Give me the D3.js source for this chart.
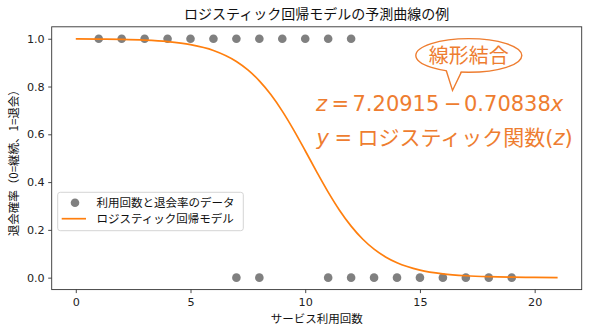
<!DOCTYPE html>
<html>
<head>
<meta charset="utf-8">
<script src="https://cdn.jsdelivr.net/npm/d3@7"></script>
<style>
  body { margin: 0; background: #fff; }
  svg { display: block; }
</style>
</head>
<body>
<svg id="chart" width="590" height="334"></svg>
<script>
// ---- data ----
const dataX = [1,2,3,4,5,6,7,8,9,10,11,12, 7,8,11,12,13,14,15,16,17,18,19];
const dataY = [1,1,1,1,1,1,1,1,1,1,1,1, 0,0,0,0,0,0,0,0,0,0,0];
const curveX = [0,1,2,3,4,5,6,7,7.5,8,8.5,9,9.5,10,10.5,11,11.5,12,12.5,13,13.5,14,15,16,17,18,19,20,21];
const curveY = [0.99926,0.9985,0.99696,0.99384,0.98757,0.97509,0.95068,0.9047,0.86947,0.82376,0.76636,0.69713,0.61763,0.53128,0.44304,0.35822,0.28145,0.21562,0.1617,0.11922,0.08674,0.06249,0.03178,0.01591,0.0079,0.00391,0.00193,0.00095,0.00047];
const xTicks = [0,5,10,15,20];
const yTicks = [0,0.2,0.4,0.6,0.8,1.0];
const titleText = "ロジスティック回帰モデルの予測曲線の例";
const xLabel = "サービス利用回数";
const yLabel = "退会確率（0=継続、1=退会）";
const legendLabels = ["利用回数と退会率のデータ", "ロジスティック回帰モデル"];
const bubbleText = "線形結合";
const eqIntercept = "7.20915";
const eqSlope = "0.70838";
const eqFuncName = "ロジスティック関数";

// ---- layout ----
const svg = d3.select("#chart");
const L = 51.7, R = 581.7, T = 26.8, B = 289.6;
const x = d3.scaleLinear().domain([-1.05, 22.05]).range([L, R]);
const y = d3.scaleLinear().domain([-0.05, 1.05]).range([B, T]);
const orange = "#ff7f0e";
const annot = "#ee7d30";
const tickFont = "'DejaVu Sans', sans-serif";
const jpFont = "'Noto Sans CJK JP', 'Noto Sans', sans-serif";

// points
svg.append("g").selectAll("circle")
  .data(dataX.map((d, i) => [d, dataY[i]]))
  .join("circle")
  .attr("cx", d => x(d[0]))
  .attr("cy", d => y(d[1]))
  .attr("r", 4.3)
  .attr("fill", "#808080");

// curve
const line = d3.line().x(d => x(d[0])).y(d => y(d[1])).curve(d3.curveMonotoneX);
svg.append("path")
  .datum(curveX.map((d, i) => [d, curveY[i]]))
  .attr("d", line)
  .attr("fill", "none")
  .attr("stroke", orange)
  .attr("stroke-width", 1.7);

// axes
const xAxis = svg.append("g").attr("transform", `translate(0,${B})`)
  .call(d3.axisBottom(x).tickValues(xTicks).tickFormat(d3.format("d")).tickSize(3.5).tickSizeOuter(0));
const yAxis = svg.append("g").attr("transform", `translate(${L},0)`)
  .call(d3.axisLeft(y).tickValues(yTicks).tickFormat(d3.format(".1f")).tickSize(3.5).tickSizeOuter(0));
[xAxis, yAxis].forEach(g => {
  g.select(".domain").remove();
  g.selectAll("line").attr("stroke", "#333").attr("stroke-width", 0.9);
  g.selectAll("text").attr("font-family", tickFont).attr("font-size", 11.2).attr("fill", "#222");
});
xAxis.selectAll("text").attr("dy", "0.95em").attr("y", 5.5);
yAxis.selectAll("text").attr("x", -7);

// frame
svg.append("rect")
  .attr("x", L).attr("y", T).attr("width", R - L).attr("height", B - T)
  .attr("fill", "none").attr("stroke", "#333").attr("stroke-width", 0.9);

// title and labels
svg.append("text").attr("x", (L + R) / 2).attr("y", 18.5)
  .attr("text-anchor", "middle").attr("font-family", jpFont).attr("font-size", 14).attr("fill", "#111")
  .text(titleText);
svg.append("text").attr("x", (L + R) / 2).attr("y", 322.5)
  .attr("text-anchor", "middle").attr("font-family", jpFont).attr("font-size", 11.5).attr("fill", "#111")
  .text(xLabel);
svg.append("text").attr("transform", `translate(17.5,${(T + B) / 2 + 2}) rotate(-90)`)
  .attr("text-anchor", "middle").attr("font-family", jpFont).attr("font-size", 11.5).attr("fill", "#111")
  .text(yLabel);

// legend
const lg = svg.append("g");
lg.append("rect").attr("x", 57.7).attr("y", 192.3).attr("width", 185.6).attr("height", 38.4)
  .attr("rx", 2.5).attr("fill", "#fff").attr("fill-opacity", 0.85)
  .attr("stroke", "#d0d0d0").attr("stroke-width", 0.9);
lg.append("circle").attr("cx", 75).attr("cy", 202.8).attr("r", 4.3).attr("fill", "#808080");
lg.append("line").attr("x1", 61.7).attr("x2", 86).attr("y1", 218.7).attr("y2", 218.7)
  .attr("stroke", orange).attr("stroke-width", 1.7);
lg.selectAll("text.lab").data(legendLabels).join("text")
  .attr("x", 96.5).attr("y", (d, i) => 202.8 + i * 15.9)
  .attr("dy", "0.35em").attr("font-family", jpFont).attr("font-size", 11.5).attr("fill", "#111")
  .text(d => d);

// annotation: speech bubble
const bx = x(17.13), by = y(0.93);
const brx = 53, bry = 16.8;
const ag = svg.append("g");
ag.append("ellipse").attr("cx", bx).attr("cy", by).attr("rx", brx).attr("ry", bry)
  .attr("fill", "#fff").attr("stroke", annot).attr("stroke-width", 1.4);
const offL = 22.5, offR = 7.5;
const tailL = [bx - offL, by + bry * Math.sqrt(1 - (offL / brx) ** 2)];
const tailR = [bx - offR, by + bry * Math.sqrt(1 - (offR / brx) ** 2)];
const tip = [bx - 16.3, by + 35];
ag.append("path")
  .attr("d", `M${tailL[0]},${tailL[1] - 2}L${tip[0]},${tip[1]}L${tailR[0]},${tailR[1] - 2}Z`)
  .attr("fill", "#fff").attr("stroke", "none");
ag.append("path")
  .attr("d", `M${tailL[0]},${tailL[1]}L${tip[0]},${tip[1]}L${tailR[0]},${tailR[1]}`)
  .attr("fill", "none").attr("stroke", annot).attr("stroke-width", 1.4).attr("stroke-linejoin", "miter");
ag.append("text").attr("x", bx).attr("y", by).attr("dy", "0.36em")
  .attr("text-anchor", "middle").attr("font-family", jpFont).attr("font-size", 20).attr("fill", annot)
  .text(bubbleText);

// equations (math-text style, DejaVu Sans)
const eqFont = "'DejaVu Sans', sans-serif";
const eq1 = svg.append("text").attr("y", 110.7)
  .attr("font-family", eqFont).attr("font-size", 21).attr("fill", annot);
eq1.append("tspan").attr("x", 316).attr("font-style", "italic").text("z");
eq1.append("tspan").attr("x", 331.5).text("=");
eq1.append("tspan").attr("x", 352.5).text(eqIntercept);
eq1.append("tspan").attr("x", 444).text("−");
eq1.append("tspan").attr("x", 464).text(eqSlope);
eq1.append("tspan").attr("font-style", "italic").text("x");
const eq2 = svg.append("text").attr("y", 145)
  .attr("font-family", eqFont).attr("font-size", 21).attr("fill", annot);
eq2.append("tspan").attr("x", 316.5).attr("font-style", "italic").text("y");
eq2.append("tspan").attr("x", 334.5).text("=");
eq2.append("tspan").attr("x", 357.5).attr("font-family", jpFont).text(eqFuncName);
eq2.append("tspan").text("(");
eq2.append("tspan").attr("font-style", "italic").text("z");
eq2.append("tspan").text(")");
</script>
</body>
</html>
